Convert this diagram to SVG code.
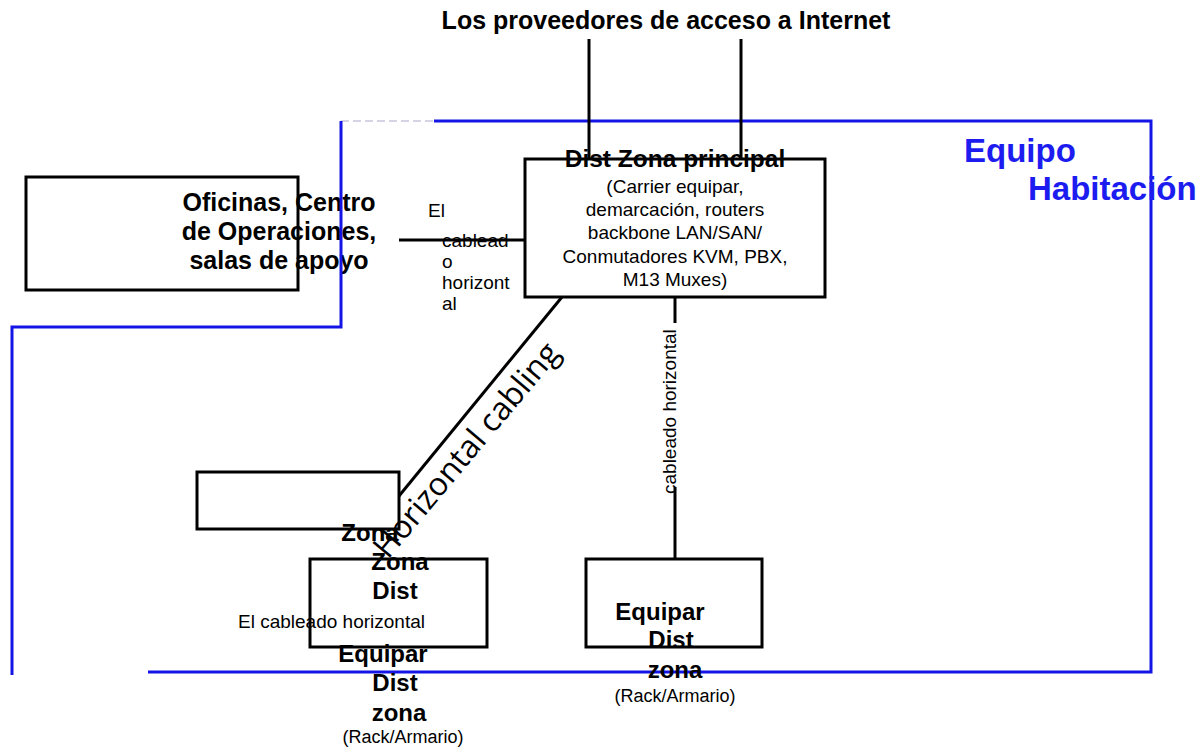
<svg xmlns="http://www.w3.org/2000/svg" width="1199" height="749" viewBox="0 0 1199 749">
<style>
.box{fill:none;stroke:#000;stroke-width:3}
.wire{fill:none;stroke:#000;stroke-width:3}
.room{fill:none;stroke:#1414e6;stroke-width:3}
.b{font-family:"Liberation Sans",Arial,sans-serif;font-weight:bold;font-size:24px;fill:#000}
.r{font-family:"Liberation Sans",Arial,sans-serif;font-size:19px;fill:#000}
.c{text-anchor:middle}
.blue{font-family:"Liberation Sans",Arial,sans-serif;font-weight:bold;font-size:33px;fill:#1c1cf0}
</style>
<rect width="1199" height="749" fill="#fff"/>
<text class="b c" x="666" y="29" style="font-size:25px">Los proveedores de acceso a Internet</text>
<g id="office">
<rect class="box" x="26" y="177" width="272" height="113"/>
<text class="b c" style="font-size:25px"><tspan x="279" y="211">Oficinas, Centro</tspan><tspan x="279" y="240">de Operaciones,</tspan><tspan x="279" y="269">salas de apoyo</tspan></text>
</g>
<g id="equipment-room">
<path d="M341,121 H434" fill="none" stroke="#d4d4e4" stroke-width="2" stroke-dasharray="8 4"/>
<path class="room" d="M434,121 H1151 V672 H148"/>
<path class="room" d="M341,121 V327 H12 V675"/>
<text class="blue" x="964" y="162">Equipo</text>
<text class="blue" x="1028" y="200">Habitación</text>
</g>
<g id="connectors">
<path class="wire" d="M589,39 V159"/>
<path class="wire" d="M741,39 V159"/>
<path class="wire" d="M399,240 H525"/>
<path class="wire" d="M562,297 L399,496"/>
<path class="wire" d="M675,297 V323"/>
<path class="wire" d="M675,487 V559"/>
<text class="r"><tspan x="428" y="217">El</tspan><tspan x="442" y="247">cablead</tspan><tspan x="442" y="268">o</tspan><tspan x="442" y="289">horizont</tspan><tspan x="442" y="310">al</tspan></text>
<text x="0" y="0" transform="translate(388,560) rotate(-50)" style="font-family:'Open Sans','Noto Sans',sans-serif;font-size:32px;fill:#000">Horizontal cabling</text>
<text class="r" transform="translate(676,494) rotate(-90)" x="0" y="0">cableado horizontal</text>
<text class="r" x="238" y="628">El cableado horizontal</text>
</g>
<g id="main-dist">
<rect class="box" x="525" y="159" width="300" height="138"/>
<text class="b c" x="675" y="167" style="font-size:24.5px">Dist Zona principal</text>
<text class="r c"><tspan x="675" y="193">(Carrier equipar,</tspan><tspan x="675" y="216">demarcación, routers</tspan><tspan x="675" y="239">backbone LAN/SAN/</tspan><tspan x="675" y="263">Conmutadores KVM, PBX,</tspan><tspan x="675" y="286">M13 Muxes)</tspan></text>
</g>
<g id="small-box">
<rect class="box" x="197" y="472" width="202" height="57"/>
</g>
<g id="zone-dist">
<rect class="box" x="310" y="559" width="177" height="88"/>
<text class="b c"><tspan x="370" y="541">Zona</tspan><tspan x="400" y="570">Zona</tspan><tspan x="395" y="599">Dist</tspan></text>
</g>
<g id="equip-dist-left">
<text class="b c"><tspan x="383" y="662">Equipar</tspan><tspan x="395" y="691">Dist</tspan><tspan x="399" y="721">zona</tspan></text>
<text class="r c" x="403" y="743" style="font-size:18px">(Rack/Armario)</text>
</g>
<g id="equip-dist-right">
<rect class="box" x="586" y="559" width="176" height="88"/>
<text class="b c"><tspan x="660" y="620">Equipar</tspan><tspan x="671" y="648">Dist</tspan><tspan x="675" y="678">zona</tspan></text>
<text class="r c" x="675" y="702" style="font-size:18px">(Rack/Armario)</text>
</g>
</svg>
